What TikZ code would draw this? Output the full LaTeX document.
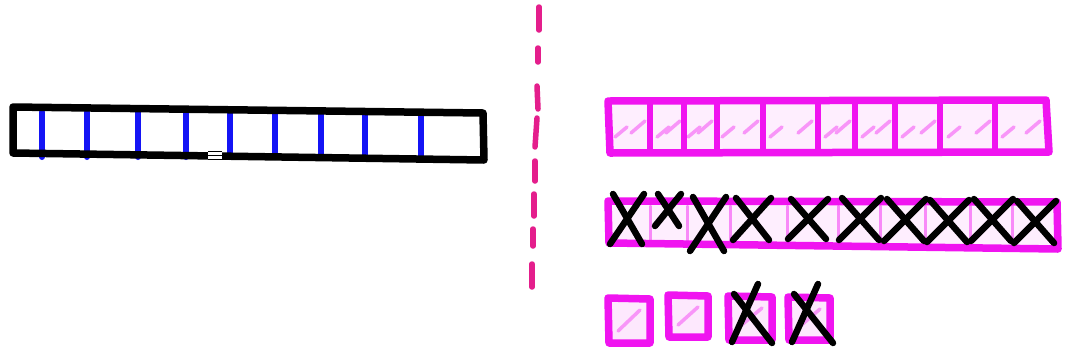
\documentclass[tikz,border=0pt]{standalone}
\definecolor{mag}{RGB}{240,20,240}
\definecolor{dpink}{RGB}{228,30,140}
\definecolor{hblue}{RGB}{20,20,245}
\tikzset{
  blackedge/.style={line width=7.5pt, line cap=round, line join=round, black},
  blueline/.style={line width=6pt, line cap=round, hblue},
  magedge/.style={line width=7.5pt, line cap=round, line join=round, mag},
  magdiv/.style={line width=5.5pt, line cap=round, mag},
  faintdiv/.style={line width=3pt, line cap=round, mag!50},
  hatch/.style={line width=3.5pt, line cap=round, mag!45},
  xstroke/.style={line width=6.5pt, line cap=round, black},
  dashseg/.style={line width=5.5pt, line cap=round, dpink},
}
\begin{document}
\begin{tikzpicture}[x=1pt,y=-1pt]
\useasboundingbox[fill=white] (0,0) rectangle (1067,357);
% ---------- left black strip ----------
\foreach \x in {42,87,138,186,230,275,321,365,421}
  \draw[blueline] (\x,112) -- (\x,157);
\draw[blackedge] (13,107) -- (483,113) -- (484,160) -- (13,153) -- cycle;
% cursor mark
\fill[white] (208,150) rectangle (222,160);
\draw[line width=0.8pt] (208,151) -- (222,151) (208,155) -- (222,155) (208,159) -- (222,159);
% ---------- dashed divider ----------
\draw[dashseg] (539,7) -- (539,30);
\draw[dashseg] (538,48) -- (538,62);
\draw[dashseg] (537,86) -- (538,109);
\draw[dashseg] (537,118) -- (535,147);
\draw[dashseg] (535,161) -- (535,181);
\draw[dashseg] (534,194) -- (534,216);
\draw[dashseg] (533,229) -- (533,246);
\draw[dashseg] (532,264) -- (532,287);
% ---------- top magenta row ----------
\fill[mag!7] (608,100) rectangle (1048,152);
\foreach \a/\b in {615/645,657/680,688/712,722/758,770/812,825/850,862/890,902/935,948/990,1002/1040}{
  \draw[hatch] (\a,137) -- (\a+12,127);
  \draw[hatch] (\b-14,133) -- (\b,121);
}
\foreach \x in {650,684,717,763,818,855,895,940,995}
  \draw[magdiv] (\x,103) -- (\x,150);
\draw[magedge] (608,101) -- (1046,100) -- (1049,152) -- (610,153) -- cycle;
% ---------- middle magenta row with crosses ----------
\fill[mag!7] (608,201) rectangle (1058,247);
\foreach \x in {650,687,730,787,838,880,925,970,1012}
  \draw[faintdiv] (\x,206) -- (\x,243);
\draw[magedge] (608,201) -- (1057,202) -- (1058,249) -- (609,243) -- cycle;
\foreach \c/\yc/\w/\h in {627/219/17/25, 668/210/13/16, 708/224/18/27, 752/219/19/21, 808/219/20/20, 860/219/21/21, 905/220/21/21, 948/221/21/21, 992/220/21/21, 1035/222/21/21}{
  \draw[xstroke] (\c-\w,\yc+\h) -- (\c+\w,\yc-\h);
  \draw[xstroke] (\c-\w+3,\yc-\h) -- (\c+\w-2,\yc+\h);
}
% ---------- bottom squares ----------
\foreach \xa/\ya/\xb/\yb in {608/298/650/343, 668/295/708/337, 728/296/772/340, 788/297/830/340}{
  \fill[mag!10] (\xa,\ya) rectangle (\xb,\yb);
  \draw[hatch] (\xa+10,\yb-12) -- (\xb-10,\ya+12);
  \draw[magedge] (\xa,\ya) -- (\xb,\ya+1) -- (\xb,\yb) -- (\xa+1,\yb) -- cycle;
}
\draw[xstroke] (732,342) -- (758,284);
\draw[xstroke] (734,294) -- (772,343);
\draw[xstroke] (792,342) -- (818,284);
\draw[xstroke] (794,294) -- (833,343);
\end{tikzpicture}
\end{document}
